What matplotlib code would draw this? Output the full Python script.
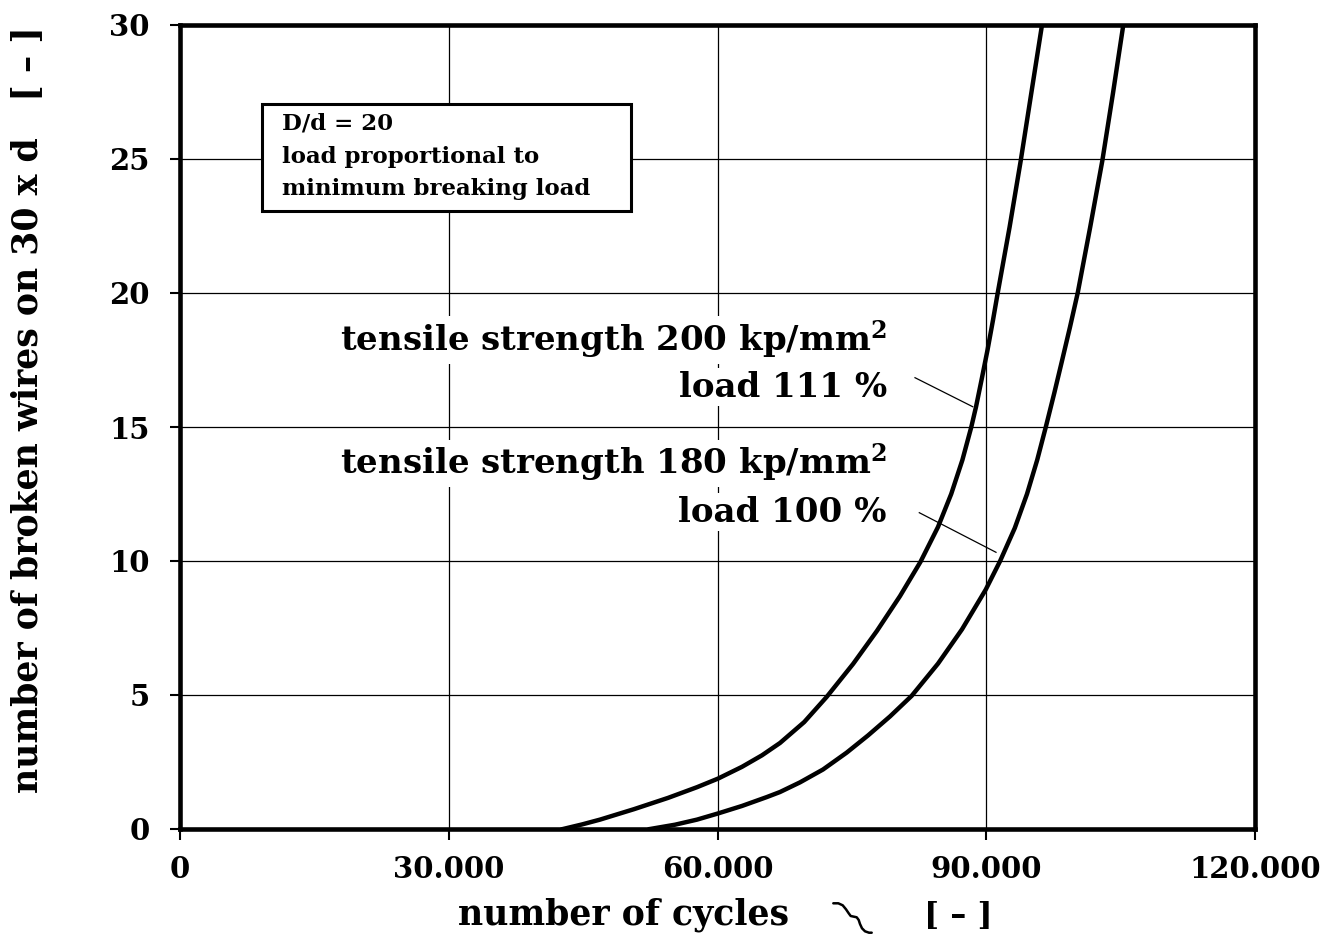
import matplotlib
matplotlib.use("Agg")
import matplotlib.pyplot as plt
from matplotlib.patches import Rectangle
from matplotlib.lines import Line2D

# ---- data ----
cycles_200 = [42753, 44874, 46884, 50679, 54474, 57712, 60056, 62735, 64967, 66977,
              69678, 72189, 75137, 77793, 80372, 82660, 84614, 86088, 87338, 88331,
              88856, 89470, 90140, 90754, 91279, 92606, 93845, 95030, 96223]
wires_200 = [0.0, 0.17, 0.35, 0.74, 1.16, 1.56, 1.88, 2.32, 2.75, 3.21,
             3.99, 4.93, 6.16, 7.39, 8.69, 9.97, 11.27, 12.50, 13.77, 15.0,
             15.75, 16.75, 17.87, 18.99, 20.0, 22.46, 24.93, 27.46, 30.0]

cycles_180 = [52465, 55256, 57712, 60056, 62735, 65491, 66977, 69209, 71777, 74420,
              76800, 79256, 81678, 84614, 87293, 89938, 91535, 93186, 94549, 95688,
              96648, 97597, 98478, 99349, 100208, 101604, 102954, 104149, 105298]
wires_180 = [0.0, 0.16, 0.35, 0.58, 0.86, 1.19, 1.38, 1.74, 2.22, 2.85,
             3.49, 4.20, 4.97, 6.17, 7.45, 8.93, 9.99, 11.23, 12.5, 13.77,
             15.0, 16.27, 17.5, 18.73, 20.0, 22.46, 24.93, 27.46, 30.0]

x_ticks = [0, 30000, 60000, 90000, 120000]
x_tick_labels = ["0", "30.000", "60.000", "90.000", "120.000"]
y_ticks = [0, 5, 10, 15, 20, 25, 30]
y_tick_labels = ["0", "5", "10", "15", "20", "25", "30"]

label_200 = [r"tensile strength 200 kp/mm$^{\mathbf{2}}$", "load 111 %"]
label_180 = [r"tensile strength 180 kp/mm$^{\mathbf{2}}$", "load 100 %"]
box_lines = ["D/d = 20", "load proportional to", "minimum breaking load"]
x_label = "number of cycles"
unit_label = "[ – ]"
y_label = "number of broken wires on 30 x d   [ – ]"

# ---- figure ----
W, H = 1340, 934
plt.rcParams['font.family'] = ['DejaVu Serif']
plt.rcParams['font.weight'] = 'bold'
plt.rcParams['mathtext.fontset'] = 'dejavuserif'
plt.rcParams['mathtext.default'] = 'bf'
fig = plt.figure(figsize=(W / 100, H / 100), dpi=100)

def fx(px):
    return px / W

def fy(py):
    return 1 - py / H

ax = fig.add_axes([fx(180), fy(829), fx(1255) - fx(180), fy(25) - fy(829)])
ax.set_xlim(0, 120000)
ax.set_ylim(0, 30)

ax.grid(True, color='black', linewidth=0.9)
for s in ax.spines.values():
    s.set_linewidth(3.3)
ax.set_xticks(x_ticks)
ax.set_xticklabels(x_tick_labels, fontsize=21, fontweight='bold')
ax.set_yticks(y_ticks)
ax.set_yticklabels(y_tick_labels, fontsize=21, fontweight='bold')
ax.tick_params(axis='x', direction='out', length=8, width=1.5, pad=11)
ax.tick_params(axis='y', direction='out', length=7, width=1.5, pad=15)

ax.plot(cycles_200, wires_200, color='black', linewidth=3.2, solid_joinstyle='round', zorder=5)
ax.plot(cycles_180, wires_180, color='black', linewidth=3.2, solid_joinstyle='round', zorder=5)

# curve labels with white background
tb = dict(facecolor='white', edgecolor='none', pad=2)
fs_lab = 24.5
fig.text(fx(887), fy(351.7), label_200[0], ha='right', va='baseline', fontsize=fs_lab,
         fontweight='bold', bbox=tb, zorder=6)
fig.text(fx(887), fy(396.7), label_200[1], ha='right', va='baseline', fontsize=fs_lab,
         fontweight='bold', bbox=tb, zorder=6)
fig.text(fx(887), fy(475), label_180[0], ha='right', va='baseline', fontsize=fs_lab,
         fontweight='bold', bbox=tb, zorder=6)
fig.text(fx(887), fy(521.7), label_180[1], ha='right', va='baseline', fontsize=fs_lab,
         fontweight='bold', bbox=tb, zorder=6)

# leader lines
fig.add_artist(Line2D([fx(915), fx(972.7)], [fy(377.7), fy(406.7)], color='black', linewidth=0.9))
fig.add_artist(Line2D([fx(919.3), fx(996)], [fy(512.7), fy(552.3)], color='black', linewidth=0.9))

# info box
rect = Rectangle((fx(262), fy(211)), fx(631) - fx(262), fy(104) - fy(211),
                 transform=fig.transFigure, facecolor='white', edgecolor='black',
                 linewidth=2.2, zorder=6)
fig.add_artist(rect)
for txt, base in zip(box_lines, [130, 163, 195]):
    fig.text(fx(282), fy(base), txt, ha='left', va='baseline', fontsize=16.5,
             fontweight='bold', zorder=7)

# x label
fig.text(fx(458), fy(925), x_label, ha='left', va='baseline', fontsize=25, fontweight='bold')
fig.text(fx(924), fy(925), unit_label, ha='left', va='baseline', fontsize=23, fontweight='bold')
# squiggle symbol next to the x label
sq_x = [833.3, 838.3, 842.7, 846, 848.7, 850.7, 854, 856.7, 858.7, 860, 862, 865, 869, 871.7]
sq_y = [903.3, 903.3, 905.3, 909.3, 913.3, 916, 916.7, 917.3, 920, 924, 928.3, 931.3, 932.7, 932.7]
fig.add_artist(Line2D([fx(v) for v in sq_x], [fy(v) for v in sq_y], color='black',
                      linewidth=1.8, solid_joinstyle='round', solid_capstyle='round'))

# y label
fig.text(fx(27), fy(410), y_label, ha='center', va='center', rotation=90,
         fontsize=25, fontweight='bold')

fig.savefig("out.png", dpi=100, facecolor='white')
